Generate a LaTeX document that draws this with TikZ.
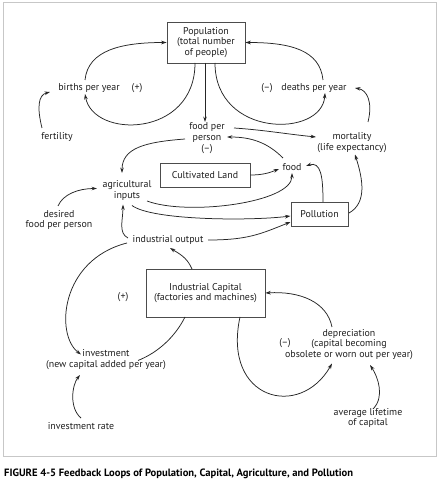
\documentclass[tikz,border=0pt]{standalone}
\usepackage{fontspec}
\setmainfont{PT Sans}
\usetikzlibrary{arrows.meta}
\begin{document}
\begin{tikzpicture}[x=1pt,y=1pt,
  lbl/.style={align=center,inner sep=1pt,text=black!88,font=\fontsize{9.9}{10.6}\selectfont},
  box/.style={lbl,draw=black!70,line width=0.6pt,fill=white},
  conn/.style={line width=0.75pt,black!85,-{Stealth[length=5.5pt,width=3.6pt]}},
  plain/.style={line width=0.75pt,black!85},
  frame/.style={draw=black!22,line width=1pt}]
\useasboundingbox (0,0) rectangle (443,480);
\fill[white] (0,0) rectangle (443,480);
\draw[frame] (3,23) rectangle (436,477);

% boxes
\node[box,minimum width=78pt,minimum height=41pt] (pop) at (206,437.5) {Population\\(total number\\of people)};
\node[box,minimum width=90pt,minimum height=24pt] (cult) at (205,305) {Cultivated Land};
\node[box,minimum width=57pt,minimum height=24pt] (poll) at (319.5,266) {Pollution};
\node[box,minimum width=119pt,minimum height=48pt] (indcap) at (205.5,187) {Industrial Capital\\(factories and machines)};

% labels
\node[lbl] (births) at (89,392) {births per year};
\node[lbl] (plusA) at (137,392) {(+)};
\node[lbl] (minusA) at (267,392) {(--)};
\node[lbl] (deaths) at (314,392) {deaths per year};
\node[lbl] (fert) at (57,343) {fertility};
\node[lbl] (foodpp) at (207,342) {food per\\person\\(--)};
\node[lbl] (mort) at (352,337.5) {mortality\\(life expectancy)};
\node[lbl] (food) at (292,313) {food};
\node[lbl] (agri) at (127,289.5) {agricultural\\inputs};
\node[lbl] (desired) at (59,260) {desired\\food per person};
\node[lbl] (indout) at (168,240) {industrial output};
\node[lbl] (plusB) at (123,183) {(+)};
\node[lbl] (deprec) at (349,135.5) {depreciation\\(capital becoming\\obsolete or worn out per year)};
\node[lbl] (minusB) at (285,137) {(--)};
\node[lbl] (invest) at (106,120.5) {investment\\(new capital added per year)};
\node[lbl] (invrate) at (81,54) {investment rate};
\node[lbl] (avglife) at (368,62) {average lifetime\\of capital};
\node[anchor=base west,inner sep=0pt,font=\fontsize{10.6}{12}\selectfont\bfseries] (caption) at (4,4) {FIGURE 4-5 Feedback Loops of Population, Capital, Agriculture, and Pollution};

% connectors
\draw[conn] ([shift={(-4,8)}]births.center) .. controls +(3,30) and +(-45,0) .. (pop.west);
\draw[conn] ([shift={(-11,-20.5)}]pop.center) .. controls +(0,-75) and +(8,-45) .. ([shift={(-4,-6)}]births.center);
\draw[conn] ([shift={(-15,9)}]fert.center) .. controls +(-5,20) and +(-12,-3) .. ([shift={(-39,-4)}]births.center);
\draw[conn] ([shift={(-1,-20.5)}]pop.center) -- ([shift={(-2,16)}]foodpp.center);
\draw[conn] ([shift={(9,-20.5)}]pop.center) .. controls +(0,-75) and +(-3,-45) .. ([shift={(11,-5)}]deaths.center);
\draw[conn] ([shift={(9,8)}]deaths.center) .. controls +(-3,30) and +(45,0) .. (pop.east);
\draw[conn] ([shift={(16,20.5)}]mort.center) .. controls +(5,20) and +(12,-2) .. ([shift={(41,0)}]deaths.center);
\draw[conn] ([shift={(27,10)}]foodpp.center) .. controls +(30,-2) and +(-30,3) .. ([shift={(-36,5.5)}]mort.center);
\draw[conn] ([shift={(-22,-1)}]foodpp.center) .. controls +(-40,-3) and +(0,25) .. ([shift={(-5,17.5)}]agri.center);
\draw[conn] ([shift={(-9,9)}]food.center) .. controls +(-15,15) and +(25,0) .. ([shift={(20,1)}]foodpp.center);
\draw[conn] (cult.east) .. controls +(12,0) and +(-10,-4) .. ([shift={(-13,-2)}]food.center);
\draw[conn] ([shift={(20,-10.5)}]agri.center) .. controls +(40,-15) and +(0,-30) .. ([shift={(0,-6)}]food.center);
\draw[conn] ([shift={(5,-15)}]agri.center) .. controls +(20,-15) and +(-40,-5) .. ([shift={(-29,-2)}]poll.center);
\draw[conn] ([shift={(40,0)}]indout.center) .. controls +(40,0) and +(-30,-12) .. ([shift={(-29,-8)}]poll.center);
\draw[conn] ([shift={(-40,2)}]indout.center) .. controls +(-10,5) and +(0,-15) .. ([shift={(-4,-14)}]agri.center);
\draw[conn] ([shift={(-1,14)}]desired.center) .. controls +(5,12) and +(-18,0) .. ([shift={(-30,2)}]agri.center);
\draw[conn] ([shift={(3.5,12)}]poll.center) .. controls +(0,25) and +(15,5) .. ([shift={(14,1)}]food.center);
\draw[conn] ([shift={(29.5,1)}]poll.center) .. controls +(18,10) and +(8,-25) .. ([shift={(3,-12)}]mort.center);
\draw[conn] ([shift={(-13.5,24)}]indcap.center) .. controls +(-5,12) and +(8,-5) .. ([shift={(2,-8)}]indout.center);
\draw[conn] ([shift={(-41,-3)}]indout.center) .. controls (60,220) and (55,145) .. ([shift={(-25,5)}]invest.center);
\draw[plain] ([shift={(32,-1)}]invest.center) .. controls +(20,8) and +(-10,-20) .. ([shift={(-20.5,-24)}]indcap.center);
\draw[conn] ([shift={(0,8)}]invrate.center) .. controls +(-12,10) and +(-8,-10) .. ([shift={(-26,-15.5)}]invest.center);
\draw[conn] ([shift={(34.5,-24)}]indcap.center) .. controls (222,80) and (300,60) .. ([shift={(-17,-19)}]deprec.center);
\draw[conn] ([shift={(-17,17.5)}]deprec.center) .. controls +(-5,25) and +(35,2) .. (indcap.east);
\draw[conn] ([shift={(5,9)}]avglife.center) .. controls +(12,12) and +(8,-12) .. ([shift={(21,-20.5)}]deprec.center);
\end{tikzpicture}
\end{document}
